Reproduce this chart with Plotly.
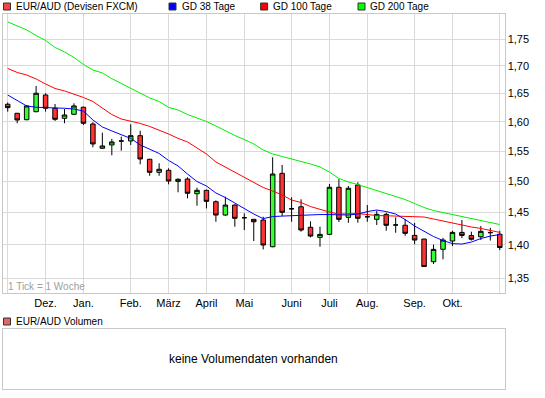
import plotly.graph_objects as go

# ---------------- data ----------------
week = list(range(53))
open_ = [1.6308, 1.6149, 1.6037, 1.6177, 1.6473, 1.6237, 1.6061, 1.6131, 1.6255, 1.5962,
         1.5547, 1.5603, 1.5670, 1.5671, 1.5761, 1.5362, 1.5146, 1.5179, 1.4998, 1.5036,
         1.4798, 1.4853, 1.4670, 1.4459, 1.4617, 1.4417, 1.4392, 1.4381, 1.3970, 1.5129,
         1.4558, 1.4590, 1.4268, 1.4113, 1.4159, 1.4902, 1.4423, 1.4939, 1.4432, 1.4392,
         1.4470, 1.4304, 1.4300, 1.4143, 1.4087, 1.3745, 1.3931, 1.4057, 1.4189, 1.4140,
         1.4122, 1.4186, 1.4161]
high = [1.6340, 1.6152, 1.6290, 1.6635, 1.6504, 1.6313, 1.6224, 1.6325, 1.6266, 1.5992,
        1.5813, 1.5705, 1.5744, 1.5957, 1.5847, 1.5370, 1.5295, 1.5212, 1.5048, 1.5064,
        1.4895, 1.4863, 1.4692, 1.4750, 1.4628, 1.4486, 1.4395, 1.4432, 1.5395, 1.5267,
        1.4740, 1.4708, 1.4360, 1.4277, 1.4955, 1.5032, 1.4923, 1.4983, 1.4617, 1.4527,
        1.4496, 1.4423, 1.4397, 1.4337, 1.4090, 1.4003, 1.4106, 1.4215, 1.4381, 1.4200,
        1.4288, 1.4260, 1.4214]
low = [1.6177, 1.5975, 1.6027, 1.6166, 1.6177, 1.6015, 1.5975, 1.6119, 1.5945, 1.5564,
       1.5535, 1.5429, 1.5506, 1.5603, 1.5278, 1.5090, 1.5090, 1.4950, 1.4821, 1.4724,
       1.4606, 1.4564, 1.4354, 1.4448, 1.4277, 1.4226, 1.4057, 1.3930, 1.3962, 1.4444,
       1.4354, 1.4200, 1.4113, 1.3970, 1.4148, 1.4350, 1.4339, 1.4339, 1.4354, 1.4304,
       1.4215, 1.4184, 1.4138, 1.4008, 1.3670, 1.3710, 1.3780, 1.3981, 1.4102, 1.4064,
       1.4072, 1.4064, 1.3920]
close = [1.6248, 1.6032, 1.6278, 1.6504, 1.6237, 1.6044, 1.6119, 1.6278, 1.5975, 1.5620,
         1.5586, 1.5654, 1.5670, 1.5761, 1.5367, 1.5146, 1.5196, 1.5004, 1.5032, 1.4805,
         1.4853, 1.4676, 1.4459, 1.4617, 1.4408, 1.4417, 1.4354, 1.3996, 1.5118, 1.4502,
         1.4558, 1.4226, 1.4133, 1.4159, 1.4902, 1.4392, 1.4886, 1.4408, 1.4432, 1.4470,
         1.4299, 1.4304, 1.4175, 1.4072, 1.3673, 1.3930, 1.4072, 1.4189, 1.4143, 1.4084,
         1.4206, 1.4186, 1.3958]
gd38 = [1.6473, 1.6375, 1.6278, 1.6255, 1.6252, 1.6243, 1.6237, 1.6224, 1.6189, 1.6032,
        1.5911, 1.5842, 1.5782, 1.5714, 1.5603, 1.5535, 1.5459, 1.5342, 1.5251, 1.5118,
        1.4995, 1.4923, 1.4810, 1.4737, 1.4649, 1.4554, 1.4475, 1.4403, 1.4435, 1.4443,
        1.4451, 1.4459, 1.4459, 1.4467, 1.4467, 1.4467, 1.4459, 1.4475, 1.4514, 1.4538,
        1.4514, 1.4475, 1.4389, 1.4288, 1.4211, 1.4126, 1.4064, 1.4018, 1.4011, 1.4041,
        1.4095, 1.4133, 1.4156]
gd100 = [1.6955, 1.6881, 1.6835, 1.6762, 1.6671, 1.6590, 1.6546, 1.6491, 1.6429, 1.6357,
         1.6243, 1.6127, 1.6049, 1.6015, 1.5972, 1.5920, 1.5859, 1.5790, 1.5714, 1.5654,
         1.5552, 1.5451, 1.5317, 1.5234, 1.5151, 1.5061, 1.4980, 1.4898, 1.4842, 1.4777,
         1.4697, 1.4657, 1.4593, 1.4546, 1.4506, 1.4475, 1.4483, 1.4483, 1.4467, 1.4451,
         1.4448, 1.4444, 1.4444, 1.4436, 1.4428, 1.4397, 1.4366, 1.4330, 1.4304, 1.4273,
         1.4250, 1.4219, 1.4189]
gd200 = [1.7834, 1.7756, 1.7679, 1.7573, 1.7478, 1.7346, 1.7261, 1.7158, 1.7028, 1.6927,
         1.6872, 1.6768, 1.6680, 1.6590, 1.6504, 1.6420, 1.6357, 1.6252, 1.6207, 1.6127,
         1.6067, 1.6006, 1.5928, 1.5842, 1.5764, 1.5696, 1.5620, 1.5518, 1.5451, 1.5409,
         1.5367, 1.5334, 1.5284, 1.5234, 1.5151, 1.5044, 1.4987, 1.4946, 1.4898, 1.4850,
         1.4802, 1.4753, 1.4705, 1.4641, 1.4578, 1.4530, 1.4499, 1.4475, 1.4444, 1.4405,
         1.4374, 1.4350, 1.4311]
month_pos = [0, 4, 8, 13, 17, 21, 25, 30, 34, 38, 43, 47, 52]
month_labels = ["", "Dez.", "Jan.", "Feb.", "März", "April", "Mai", "Juni",
                "Juli", "Aug.", "Sep.", "Okt.", ""]
y_ticks = [1.35, 1.40, 1.45, 1.50, 1.55, 1.60, 1.65, 1.70, 1.75]

# ---------------- style ----------------
W, H = 545, 398
FONT = "Liberation Sans, Arial, sans-serif"
GRID = "#dadada"
FRAME = "#c8c8c8"
UP = "#33ff33"
DOWN = "#ff3333"


def px_x(p):
    return p / W


def px_y(p):
    return 1 - p / H


fig = go.Figure()

for vals, col in ((gd200, "#00ee00"), (gd100, "#ff0000"), (gd38, "#0000ff")):
    fig.add_trace(go.Scatter(x=week, y=vals, mode="lines",
                             line=dict(color=col, width=1), showlegend=False,
                             hoverinfo="skip"))


def subset(cond):
    idx = [i for i in week if cond(open_[i], close[i])]
    return dict(x=[week[i] for i in idx], open=[open_[i] for i in idx],
                high=[high[i] for i in idx], low=[low[i] for i in idx],
                close=[close[i] for i in idx])


for cond, fill in ((lambda o, c: c > o, UP), (lambda o, c: c < o, DOWN),
                   (lambda o, c: c == o, "#000000")):
    d = subset(cond)
    fig.add_trace(go.Candlestick(
        **d, whiskerwidth=0,
        increasing=dict(line=dict(color="black", width=1), fillcolor=fill),
        decreasing=dict(line=dict(color="black", width=1), fillcolor=fill),
        showlegend=False))

# empty volume panel
fig.add_trace(go.Scatter(x=[None], y=[None], xaxis="x2", yaxis="y2",
                         showlegend=False))

main_dom = [1 - 292.5 / H, 1 - 13.5 / H]
vol_dom = [1 - 389.3 / H, 1 - 329.3 / H]
x_dom = [3 / W, 504.5 / W]

fig.update_layout(
    width=W, height=H, margin=dict(l=0, r=0, t=0, b=0),
    paper_bgcolor="white", plot_bgcolor="white",
    separators=",.", boxgap=0.32,
    font=dict(family=FONT, size=11, color="black"),
    xaxis=dict(domain=x_dom, range=[-0.5, 52.5], tickmode="array",
               tickvals=month_pos, ticktext=month_labels, showgrid=True,
               gridcolor=GRID, gridwidth=1, zeroline=False, ticks="",
               showline=True, mirror=True, linecolor=FRAME, linewidth=1,
               rangeslider=dict(visible=False), automargin=False,
               tickfont=dict(size=11)),
    yaxis=dict(domain=main_dom, type="log", range=[0.12361, 0.25521],
               side="right", tickmode="array", tickvals=y_ticks,
               tickformat=".2f", showgrid=True, gridcolor=GRID, gridwidth=1,
               zeroline=False, ticks="", showline=True, mirror=True,
               linecolor=FRAME, linewidth=1, automargin=False,
               tickfont=dict(size=11)),
    xaxis2=dict(domain=x_dom, anchor="y2", range=[0, 1], showgrid=False,
                zeroline=False, showticklabels=False, ticks="", showline=True,
                mirror=True, linecolor=FRAME, linewidth=1, automargin=False),
    yaxis2=dict(domain=vol_dom, anchor="x2", range=[0, 1], showgrid=False,
                zeroline=False, showticklabels=False, ticks="", showline=True,
                mirror=True, linecolor=FRAME, linewidth=1, automargin=False),
)

# legend-like header and captions
legend_items = [
    ("EUR/AUD (Devisen FXCM)", "#ff4040", 3.5, 14.6),
    ("GD 38 Tage", "#0000ff", 169.0, 180.5),
    ("GD 100 Tage", "#ff0000", 260.6, 271.8),
    ("GD 200 Tage", "#00ff00", 358.0, 369.0),
]
shapes = []
annotations = []
for text, col, sx, tx in legend_items:
    shapes.append(dict(type="rect", xref="paper", yref="paper",
                       x0=px_x(sx), x1=px_x(sx + 7), y0=px_y(10), y1=px_y(3),
                       fillcolor=col, line=dict(color="#333333", width=1)))
    annotations.append(dict(text=text, xref="paper", yref="paper",
                            x=px_x(tx), y=px_y(6.5), xanchor="left",
                            yanchor="middle", showarrow=False,
                            font=dict(size=10, color="black"), borderpad=0))

shapes.append(dict(type="rect", xref="paper", yref="paper",
                   x0=px_x(3.5), x1=px_x(10.5), y0=px_y(325), y1=px_y(318),
                   fillcolor="#e06666", line=dict(color="#333333", width=1)))
annotations.append(dict(text="EUR/AUD Volumen", xref="paper", yref="paper",
                        x=px_x(14.6), y=px_y(321.5), xanchor="left",
                        yanchor="middle", showarrow=False,
                        font=dict(size=10, color="black"), borderpad=0))
annotations.append(dict(text="keine Volumendaten vorhanden", xref="paper",
                        yref="paper", x=px_x(253.5), y=px_y(359),
                        xanchor="center", yanchor="middle", showarrow=False,
                        font=dict(size=12, color="black"), borderpad=0))
annotations.append(dict(text="1 Tick = 1 Woche", xref="paper", yref="paper",
                        x=px_x(7.0), y=px_y(286), xanchor="left",
                        yanchor="middle", showarrow=False,
                        font=dict(size=10, color="#a0a0a0"), borderpad=0))

fig.update_layout(shapes=shapes, annotations=annotations)

fig.write_html("out.html", config=dict(displayModeBar=False),
               post_script="document.body.style.margin='0';"
                           "document.body.style.overflow='hidden';")
